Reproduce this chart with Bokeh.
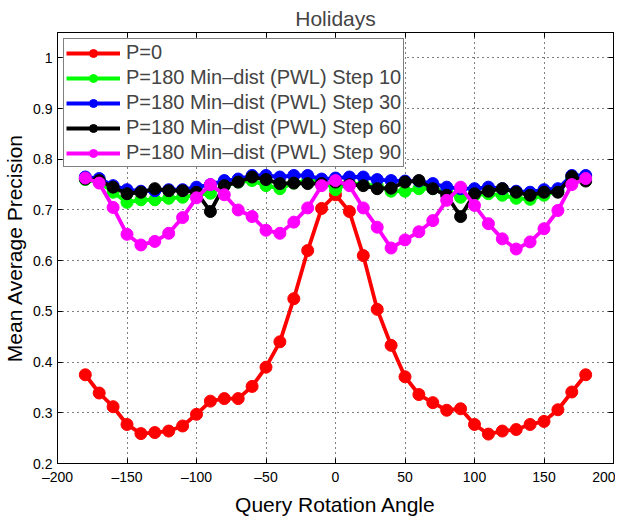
from bokeh.plotting import figure
from bokeh.embed import file_html
from bokeh.resources import INLINE
from bokeh.models import (Range1d, FixedTicker, CustomJSTickFormatter, LinearAxis,
                          Legend, LegendItem)

angles = [-180, -170, -160, -150, -140, -130, -120, -110, -100, -90, -80, -70, -60,
          -50, -40, -30, -20, -10, 0, 10, 20, 30, 40, 50, 60, 70, 80, 90, 100, 110,
          120, 130, 140, 150, 160, 170, 180]

p0 = [0.375, 0.339, 0.312, 0.277, 0.259, 0.261, 0.264, 0.274, 0.297, 0.323, 0.328, 0.328,
      0.352, 0.390, 0.440, 0.525, 0.620, 0.703, 0.730, 0.697, 0.610, 0.504, 0.433, 0.371,
      0.336, 0.320, 0.305, 0.308, 0.277, 0.258, 0.264, 0.267, 0.277, 0.283, 0.306, 0.341,
      0.375]

step10 = [0.760, 0.755, 0.735, 0.715, 0.720, 0.720, 0.723, 0.725, 0.730, 0.733, 0.748, 0.755,
          0.758, 0.748, 0.742, 0.753, 0.758, 0.758, 0.740, 0.753, 0.750, 0.748, 0.737, 0.737,
          0.742, 0.742, 0.735, 0.725, 0.729, 0.732, 0.729, 0.723, 0.721, 0.729, 0.737, 0.762,
          0.765]

step30 = [0.765, 0.762, 0.748, 0.740, 0.737, 0.738, 0.740, 0.740, 0.745, 0.750, 0.758, 0.761,
          0.768, 0.768, 0.765, 0.768, 0.768, 0.761, 0.763, 0.765, 0.765, 0.760, 0.758, 0.757,
          0.757, 0.752, 0.745, 0.742, 0.742, 0.745, 0.742, 0.737, 0.735, 0.740, 0.742, 0.768,
          0.768]

step60 = [0.761, 0.758, 0.745, 0.732, 0.735, 0.742, 0.738, 0.738, 0.735, 0.697, 0.748, 0.755,
          0.765, 0.760, 0.752, 0.753, 0.752, 0.752, 0.755, 0.750, 0.748, 0.742, 0.743, 0.755,
          0.758, 0.742, 0.729, 0.687, 0.732, 0.737, 0.742, 0.735, 0.729, 0.735, 0.735, 0.766,
          0.757]

step90 = [0.763, 0.753, 0.705, 0.652, 0.631, 0.638, 0.654, 0.685, 0.724, 0.750, 0.730, 0.700,
          0.687, 0.660, 0.654, 0.676, 0.704, 0.748, 0.758, 0.748, 0.704, 0.666, 0.625, 0.641,
          0.657, 0.679, 0.719, 0.745, 0.709, 0.673, 0.643, 0.623, 0.637, 0.663, 0.699, 0.750,
          0.762]

labels = ["P=0", "P=180 Min\u2013dist (PWL) Step 10", "P=180 Min\u2013dist (PWL) Step 30",
          "P=180 Min\u2013dist (PWL) Step 60", "P=180 Min\u2013dist (PWL) Step 90"]
colors = ["#ff0000", "#00ff00", "#0000ff", "#000000", "#ff00ff"]
series = [p0, step10, step30, step60, step90]

x_ticks = [-200, -150, -100, -50, 0, 50, 100, 150, 200]
y_ticks = [0.2, 0.3, 0.4, 0.5, 0.6, 0.7, 0.8, 0.9, 1.0]

FONT = "Liberation Sans"

p = figure(frame_width=556, frame_height=431, output_backend="svg", toolbar_location=None,
           x_range=Range1d(-200, 200), y_range=Range1d(0.2, 1.05),
           min_border_left=55, min_border_right=2, min_border_top=32, min_border_bottom=46)

p.title.text = "Holidays"
p.title.align = "center"
p.title.text_font = FONT
p.title.text_font_size = "21px"
p.title.text_font_style = "normal"
p.title.standoff = 6
p.title.offset = 0

p.outline_line_color = "black"
p.outline_line_alpha = 1.0
p.outline_line_width = 1
p.background_fill_color = "white"
p.border_fill_color = "white"

fmt_x = CustomJSTickFormatter(code="return tick < 0 ? '\u2013' + Math.abs(tick) : String(tick);")
fmt_y = CustomJSTickFormatter(code="return String(Number(tick.toFixed(1)));")
fmt_empty = CustomJSTickFormatter(code="return '';")

for ax in p.xaxis:
    ax.ticker = FixedTicker(ticks=x_ticks)
    ax.formatter = fmt_x
    ax.axis_label = "Query Rotation Angle"
for ax in p.yaxis:
    ax.ticker = FixedTicker(ticks=y_ticks)
    ax.formatter = fmt_y
    ax.axis_label = "Mean Average Precision"

top_ax = LinearAxis(ticker=FixedTicker(ticks=x_ticks), formatter=fmt_empty)
right_ax = LinearAxis(ticker=FixedTicker(ticks=y_ticks), formatter=fmt_empty)
p.add_layout(top_ax, "above")
p.add_layout(right_ax, "right")

for ax in list(p.xaxis) + list(p.yaxis):
    ax.major_tick_in = 5
    ax.major_tick_out = 0
    ax.minor_tick_line_color = None
    ax.axis_line_color = "black"
    ax.major_tick_line_color = "black"
    ax.major_label_text_font = FONT
    ax.major_label_text_font_size = "14px"
    ax.major_label_text_color = "black"
    ax.axis_label_text_font = FONT
    ax.axis_label_text_font_size = "21px"
    ax.axis_label_text_font_style = "normal"
    ax.axis_label_text_color = "black"

p.xaxis[0].major_label_standoff = 11
p.xaxis[0].axis_label_standoff = 0
p.yaxis[0].major_label_standoff = 5
p.yaxis[0].axis_label_standoff = 4
top_ax.major_label_standoff = 0
right_ax.major_label_standoff = 0

for g in (p.xgrid[0], p.ygrid[0]):
    g.grid_line_color = "black"
    g.grid_line_dash = "1 4"
    g.grid_line_width = 1
p.xgrid[0].ticker = FixedTicker(ticks=x_ticks)
p.ygrid[0].ticker = FixedTicker(ticks=y_ticks)

items = []
for lab, col, ys in zip(labels, colors, series):
    r1 = p.line(angles, ys, line_color=col, line_width=3.8)
    r2 = p.scatter(angles, ys, marker="circle", size=12, fill_color=col, line_color=col)
    items.append(LegendItem(label=lab, renderers=[r1, r2]))

legend = Legend(items=items, location="top_left")
legend.margin = 6
legend.padding = 2
legend.spacing = 2
legend.glyph_width = 54
legend.glyph_height = 20
legend.label_height = 20
legend.label_standoff = 6
legend.label_text_font = FONT
legend.label_text_font_size = "20px"
legend.border_line_color = "black"
legend.border_line_width = 1
legend.background_fill_color = "white"
legend.background_fill_alpha = 1.0
p.add_layout(legend)

open("out.html", "w").write(file_html(p, INLINE))
